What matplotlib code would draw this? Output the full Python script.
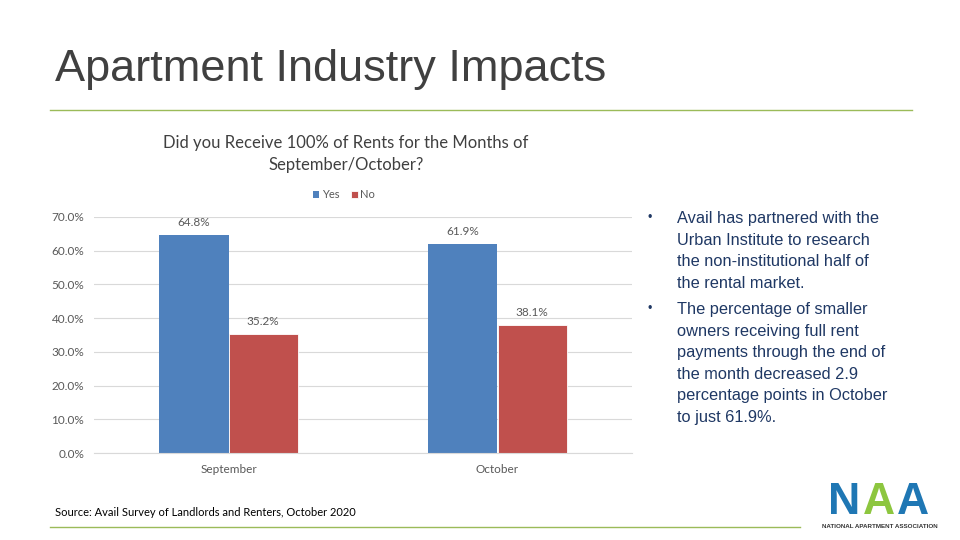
"""Recreate the 'Apartment Industry Impacts' slide chart."""

import matplotlib.pyplot as plt
import numpy as np
from matplotlib import font_manager
from matplotlib.lines import Line2D

months = ["September", "October"]
yes_share = [64.8, 61.9]
no_share = [35.2, 38.1]
y_ticks = [0, 10, 20, 30, 40, 50, 60, 70]

bullets = [
    "Avail has partnered with the\nUrban Institute to research\nthe non-institutional half of\nthe rental market.",
    "The percentage of smaller\nowners receiving full rent\npayments through the end of\nthe month decreased 2.9\npercentage points in October\nto just 61.9%.",
]

BLUE = "#4F81BD"
RED = "#C0504D"
GRAY = "#595959"
NAVY = "#1F3864"
GREEN_LINE = "#9BBB59"

names = {f.name for f in font_manager.fontManager.ttflist}
NARROW = "Liberation Sans Narrow" if "Liberation Sans Narrow" in names else "Liberation Sans"
CHART_FONT = "Lato"


def main():
    fig = plt.figure(figsize=(9.6, 5.4), dpi=100)

    # slide title and rules
    fig.text(55 / 960, 1 - 70 / 540, "Apartment Industry Impacts", fontsize=32.5,
             family=NARROW, color="#404040", va="center", ha="left")
    fig.add_artist(Line2D([50 / 960, 912 / 960], [1 - 110 / 540] * 2,
                          color=GREEN_LINE, lw=1.0))
    fig.add_artist(Line2D([50 / 960, 800 / 960], [1 - 527 / 540] * 2,
                          color=GREEN_LINE, lw=1.0))

    ax = fig.add_axes([94 / 960, 87 / 540, 538 / 960, 236 / 540])
    x = np.arange(len(months))
    width = 0.257
    bars_yes = ax.bar(x - width / 2, yes_share, width, color=BLUE, label="Yes")
    bars_no = ax.bar(x + width / 2, no_share, width, color=RED, label="No",
                     edgecolor="white", linewidth=0.6)

    for bars in (bars_yes, bars_no):
        for bar in bars:
            h = bar.get_height()
            ax.annotate(f"{h:.1f}%", (bar.get_x() + bar.get_width() / 2, h),
                        xytext=(0, 5), textcoords="offset points",
                        ha="center", va="bottom", fontsize=8.5,
                        family=CHART_FONT, color=GRAY)

    ax.set_xlim(-0.5, 1.5)
    ax.set_ylim(0, 70)
    ax.set_yticks(y_ticks)
    ax.set_yticklabels([f"{t:.1f}%" for t in y_ticks])
    ax.set_xticks(x)
    ax.set_xticklabels(months)
    ax.tick_params(length=0, labelsize=8.5, labelcolor=GRAY)
    ax.tick_params(axis="x", pad=8)
    ax.tick_params(axis="y", pad=7)
    for label in ax.get_xticklabels() + ax.get_yticklabels():
        label.set_family(CHART_FONT)
    ax.grid(axis="y", color="#D9D9D9", lw=0.8)
    ax.set_axisbelow(True)
    for side in ("top", "right", "left"):
        ax.spines[side].set_visible(False)
    ax.spines["bottom"].set_color("#D9D9D9")

    ax.legend(loc="center", bbox_to_anchor=(344 / 960, 1 - 195 / 540),
              bbox_transform=fig.transFigure, ncol=2, frameon=False,
              handlelength=0.6, handleheight=0.6,
              handletextpad=0.25, columnspacing=1.0,
              prop={"family": CHART_FONT, "size": 8}, labelcolor=GRAY)

    fig.text(346 / 960, 1 - 154 / 540,
             "Did you Receive 100% of Rents for the Months of\nSeptember/October?",
             ha="center", va="center", fontsize=12, family=CHART_FONT,
             color="#404040", linespacing=1.5)

    fig.text(55 / 960, 1 - 513 / 540,
             "Source: Avail Survey of Landlords and Renters, October 2020",
             ha="left", va="center", fontsize=8, family=CHART_FONT, color="black")

    # bullet text on the right
    tops = [218, 309]
    for top, text in zip(tops, bullets):
        fig.text(648 / 960, 1 - top / 540, "\u2022", ha="left", va="center",
                 fontsize=9, color=NAVY, family=NARROW)
        fig.text(677 / 960, 1 - (top - 7) / 540, text, ha="left", va="top",
                 fontsize=11.8, color=NAVY, family=NARROW, linespacing=1.55)

    # NAA logo approximation
    for xpos, letter, color in [(828, "N", "#1F77B4"), (863, "A", "#8DC63F"),
                                (897, "A", "#1F77B4")]:
        fig.text(xpos / 960, 1 - 503 / 540, letter, fontsize=32, fontweight="bold",
                 color=color, family=NARROW, ha="left", va="center")
    fig.text(880 / 960, 1 - 526 / 540, "NATIONAL APARTMENT ASSOCIATION",
             fontsize=4.5, fontweight="bold", color="#333333", family=NARROW,
             ha="center", va="center")

    fig.savefig("out.png", dpi=100, facecolor="white")


if __name__ == "__main__":
    main()
